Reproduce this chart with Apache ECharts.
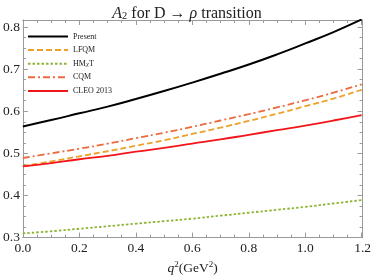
<!DOCTYPE html>
<html><head><meta charset="utf-8">
<script src="https://cdn.jsdelivr.net/npm/echarts@6/dist/echarts.min.js"></script>
<style>html,body{margin:0;padding:0;background:#fff}#c{width:374px;height:280px}</style>
</head><body><div id="c"></div>
<script>
var q2 = [0.0,0.1,0.2,0.3,0.4,0.5,0.6,0.7,0.8,0.9,1.0,1.1,1.2];
var present = [0.564,0.579,0.595,0.611,0.629,0.648,0.668,0.689,0.711,0.735,0.761,0.788,0.818];
var lfqm    = [0.470,0.481,0.493,0.505,0.518,0.531,0.546,0.561,0.577,0.594,0.612,0.630,0.651];
var hmxt    = [0.310,0.315,0.321,0.327,0.333,0.339,0.345,0.352,0.359,0.366,0.373,0.381,0.389];
var cqm     = [0.489,0.500,0.511,0.523,0.536,0.549,0.563,0.578,0.593,0.609,0.626,0.644,0.664];
var cleo    = [0.469,0.477,0.486,0.494,0.504,0.513,0.523,0.533,0.544,0.555,0.566,0.578,0.591];
var xTicks = [0.0,0.2,0.4,0.6,0.8,1.0,1.2];
var yTicks = [0.3,0.4,0.5,0.6,0.7,0.8];
var names = ['Present','LFQM','HMχT','CQM','CLEO 2013'];

function pairs(ys){ return q2.map(function(x,i){return [x,ys[i]];}); }
var serif = 'Liberation Serif';
var frame = '#9a9a9a';
function axisBase(pos, isX, labels){
  return {
    type:'value', position:pos,
    min: isX?0:0.3, max: isX?1.203:0.8166, interval: isX?0.2:0.1,
    axisLine:{show:true,onZero:false,lineStyle:{color:frame,width:1}},
    axisTick:{show:true,inside:true,length:5,lineStyle:{color:frame}},
    minorTick:{show:true,splitNumber:4,length:3,lineStyle:{color:frame}},
    splitLine:{show:false},
    axisLabel:{show:labels,color:'#222',fontFamily:serif,fontSize:13.5,margin:isX?4:3,
      showMaxLabel: isX?true:false,
      formatter:function(v){ return v.toFixed(1); }}
  };
}
var chart = echarts.init(document.getElementById('c'));
var x0 = axisBase('bottom',true,true);
x0.name = '{i|q}{sup|2}{n|(GeV}{sup|2}{n|)}';
x0.nameLocation='middle'; x0.nameGap=21;
x0.nameTextStyle={rich:{
  i:{fontFamily:serif,fontStyle:'italic',fontSize:13.5,color:'#222'},
  n:{fontFamily:serif,fontSize:13.5,color:'#222'},
  sup:{fontFamily:serif,fontSize:9,color:'#222',verticalAlign:'top',padding:[0,0,6,0]}
}};
var x1 = axisBase('top',true,false);
var y0 = axisBase('left',false,true);
var y1 = axisBase('right',false,false);

function ser(name, data, color, width, type){
  return {name:name,type:'line',data:pairs(data),showSymbol:false,symbol:'none',smooth:true,
    lineStyle:{color:color,width:width,type:type},itemStyle:{color:color},xAxisIndex:0,yAxisIndex:0,
    emphasis:{disabled:true},animation:false};
}
chart.setOption({
  animation:false,
  title:{text:'{i|A}{sub|2}{n| for D → }{i|ρ}{n| transition}',left:'center',top:0,
    textStyle:{fontWeight:'normal',rich:{
      i:{fontFamily:serif,fontStyle:'italic',fontWeight:'normal',fontSize:16,color:'#222'},
      n:{fontFamily:serif,fontWeight:'normal',fontSize:16,color:'#222'},
      sub:{fontFamily:serif,fontWeight:'normal',fontSize:10.5,color:'#222',verticalAlign:'bottom',padding:[6,0,0,0]}
    }}},
  grid:{left:20,right:6,top:20,bottom:42,containLabel:false},
  legend:{orient:'vertical',left:22,top:27.5,itemWidth:40,itemHeight:8,itemGap:5.6,
    data:names, itemStyle:{opacity:0},
    textStyle:{fontFamily:serif,fontSize:8,color:'#222',
      rich:{n:{fontFamily:serif,fontSize:8,color:'#222'},i:{fontFamily:serif,fontSize:7,fontStyle:'italic',color:'#222'}}},
    formatter:function(n){ return n==='HMχT' ? '{n|HM}{i|χ}{n|T}' : n; }
  },
  xAxis:[x0,x1],
  yAxis:[y0,y1],
  series:[
    ser('Present',present,'#000000',2,'solid'),
    ser('LFQM',lfqm,'#EBA12A',1.8,[6,3]),
    ser('HMχT',hmxt,'#8DB534',1.8,[2.5,2]),
    ser('CQM',cqm,'#EC6A3D',1.8,[7,3,2,3]),
    ser('CLEO 2013',cleo,'#F2161B',1.8,'solid')
  ]
});
</script></body></html>
